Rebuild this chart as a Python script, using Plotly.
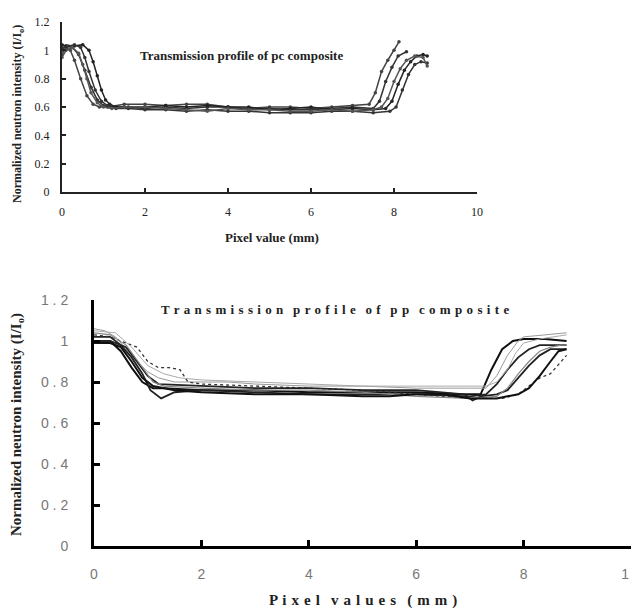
import plotly.graph_objects as go

# ---------------- top chart (pc composite) ----------------
pc_x1 = [0, 0.1, 0.2, 0.3, 0.45, 0.6, 0.75, 0.9, 1.1, 1.5, 2, 2.5, 3, 3.5, 4, 4.5, 5, 5.5, 6, 6.5, 7, 7.4, 7.55, 7.7, 7.85, 8.0, 8.12]
pc_y1 = [0.97, 1.02, 1.0, 0.93, 0.8, 0.68, 0.62, 0.6, 0.6, 0.62, 0.62, 0.61, 0.62, 0.62, 0.6, 0.59, 0.6, 0.6, 0.59, 0.6, 0.61, 0.62, 0.7, 0.85, 0.93, 1.0, 1.06]
pc_x2 = [0, 0.1, 0.25, 0.4, 0.55, 0.7, 0.85, 1.0, 1.2, 1.5, 2, 2.5, 3, 3.5, 4, 4.5, 5, 5.5, 6, 6.5, 7, 7.5, 7.65, 7.8, 7.95, 8.1, 8.3]
pc_y2 = [1.0, 1.03, 1.02, 0.97, 0.86, 0.74, 0.65, 0.61, 0.6, 0.6, 0.59, 0.6, 0.59, 0.6, 0.6, 0.58, 0.59, 0.58, 0.58, 0.59, 0.6, 0.59, 0.64, 0.78, 0.88, 0.96, 0.99]
pc_x3 = [0, 0.1, 0.3, 0.5, 0.65, 0.75, 0.85, 0.95, 1.05, 1.15, 1.3, 1.6, 2, 2.5, 3, 3.5, 4, 4.5, 5, 5.5, 6, 6.5, 7, 7.5, 7.8, 7.95, 8.1, 8.25, 8.4, 8.55, 8.7, 8.8]
pc_y3 = [1.04, 1.03, 1.03, 1.04, 1.0, 0.92, 0.82, 0.72, 0.65, 0.62, 0.6, 0.6, 0.6, 0.61, 0.6, 0.61, 0.6, 0.6, 0.58, 0.59, 0.6, 0.58, 0.59, 0.58, 0.59, 0.64, 0.76, 0.86, 0.92, 0.96, 0.97, 0.96]
pc_x4 = [0, 0.15, 0.3, 0.45, 0.55, 0.65, 0.8, 0.95, 1.1, 1.3, 1.6, 2, 2.5, 3, 3.5, 4, 4.5, 5, 5.5, 6, 6.5, 7, 7.5, 7.9, 8.05, 8.2, 8.35, 8.5, 8.65, 8.8]
pc_y4 = [1.02, 1.03, 1.04, 1.02, 0.95, 0.85, 0.72, 0.64, 0.61, 0.59, 0.59, 0.58, 0.58, 0.57, 0.58, 0.57, 0.57, 0.56, 0.56, 0.56, 0.57, 0.57, 0.56, 0.57, 0.6, 0.72, 0.83, 0.9, 0.92, 0.91]
pc_x5 = [0, 0.1, 0.25, 0.4, 0.5, 0.6, 0.7, 0.85, 1.0, 1.2, 1.5, 2, 2.5, 3, 3.5, 4, 4.5, 5, 5.5, 6, 6.5, 7, 7.5, 7.7, 7.85, 8.0, 8.15, 8.3, 8.5, 8.7, 8.8]
pc_y5 = [0.95, 1.0, 1.02, 0.98, 0.9, 0.8, 0.7, 0.63, 0.6, 0.59, 0.6, 0.6, 0.59, 0.58, 0.57, 0.59, 0.58, 0.58, 0.57, 0.57, 0.58, 0.57, 0.58, 0.6, 0.66, 0.78, 0.87, 0.93, 0.96, 0.95, 0.89]

# ---------------- bottom chart (pp composite) ----------------
pp_x1 = [0, 0.3, 0.5, 0.7, 0.9, 1.1, 1.3, 2, 3, 4, 5, 6, 6.8, 7.2, 7.4, 7.6, 7.8, 8.0, 8.4, 8.8]
pp_y1 = [1.0, 1.0, 0.95, 0.87, 0.8, 0.77, 0.77, 0.76, 0.76, 0.75, 0.75, 0.75, 0.74, 0.74, 0.86, 0.96, 1.0, 1.01, 1.01, 1.0]
pp_x2 = [0, 0.2, 0.4, 0.6, 0.8, 1.0, 1.2, 1.5, 2, 2.5, 3, 4, 5, 6, 7, 7.3, 7.5, 7.7, 7.9, 8.0, 8.4, 8.8]
pp_y2 = [1.06, 1.05, 1.02, 0.96, 0.9, 0.85, 0.82, 0.8, 0.8, 0.8, 0.79, 0.78, 0.78, 0.77, 0.77, 0.77, 0.83, 0.93, 1.0, 1.02, 1.03, 1.04]
pp_x3 = [0, 0.3, 0.5, 0.7, 0.9, 1.05, 1.25, 1.5, 2, 3, 4, 5, 6, 7, 7.3, 7.5, 7.7, 7.9, 8.1, 8.3, 8.8]
pp_y3 = [1.02, 1.02, 0.98, 0.92, 0.84, 0.76, 0.72, 0.75, 0.76, 0.75, 0.74, 0.74, 0.74, 0.73, 0.74, 0.79, 0.86, 0.92, 0.96, 0.98, 0.98]
pp_x4 = [0, 0.3, 0.6, 0.8, 1.0, 1.2, 1.4, 1.6, 1.75, 2, 3, 4, 5, 6, 7, 7.6, 7.9, 8.1, 8.3, 8.5, 8.7, 8.8]
pp_y4 = [1.03, 1.02, 0.99, 0.97, 0.9, 0.87, 0.87, 0.86, 0.8, 0.79, 0.78, 0.77, 0.76, 0.74, 0.72, 0.72, 0.74, 0.78, 0.82, 0.84, 0.9, 0.93]
pp_x5 = [0, 0.3, 0.6, 0.8, 1.0, 1.2, 2, 3, 4, 5, 6, 6.9, 7.05, 7.2, 7.5, 7.7, 7.9, 8.1, 8.3, 8.5, 8.8]
pp_y5 = [1.0, 1.0, 0.97, 0.9, 0.83, 0.79, 0.78, 0.77, 0.77, 0.76, 0.76, 0.74, 0.71, 0.73, 0.74, 0.76, 0.82, 0.88, 0.93, 0.96, 0.96]
pp_x6 = [0, 0.3, 0.6, 0.9, 1.1, 1.3, 2, 3, 4, 5, 6, 7, 7.5, 7.7, 7.9, 8.1, 8.3, 8.5, 8.7, 8.8]
pp_y6 = [1.04, 1.03, 0.98, 0.87, 0.8, 0.78, 0.77, 0.76, 0.76, 0.75, 0.73, 0.72, 0.73, 0.77, 0.84, 0.9, 0.95, 0.97, 0.98, 0.98]
pp_x7 = [0, 0.3, 0.5, 0.7, 0.9, 1.1, 1.5, 2, 3, 4, 5, 5.5, 6, 6.5, 7, 7.5, 7.7, 7.9, 8.1, 8.3, 8.5, 8.65, 8.8]
pp_y7 = [0.99, 0.99, 0.97, 0.9, 0.82, 0.78, 0.76, 0.75, 0.74, 0.74, 0.73, 0.73, 0.74, 0.74, 0.72, 0.72, 0.73, 0.74, 0.77, 0.83, 0.9, 0.95, 0.96]
pp_x8 = [0, 0.4, 0.7, 1.0, 1.3, 1.6, 2, 3, 4, 5, 6, 7, 7.3, 7.5, 7.7, 7.85, 8.0, 8.3, 8.6, 8.8]
pp_y8 = [1.05, 1.04, 0.97, 0.88, 0.84, 0.82, 0.81, 0.8, 0.79, 0.78, 0.78, 0.78, 0.78, 0.8, 0.86, 0.94, 0.99, 1.01, 1.02, 1.03]

x_ticks = [0, 2, 4, 6, 8, 10]
y_ticks = [0, 0.2, 0.4, 0.6, 0.8, 1, 1.2]
top_y_labels = ["0", "0.2", "0.4", "0.6", "0.8", "1", "1.2"]
bot_y_labels = ["0", "0 . 2", "0 . 4", "0 . 6", "0 . 8", "1", "1 . 2"]
bot_x_labels = ["0", "2", "4", "6", "8", "1 0"]

fig = go.Figure()

pc_series = [(pc_x1, pc_y1), (pc_x2, pc_y2), (pc_x3, pc_y3), (pc_x4, pc_y4), (pc_x5, pc_y5)]
pc_colors = ["#444", "#333", "#222", "#333", "#555"]
for (xs, ys), c in zip(pc_series, pc_colors):
    fig.add_trace(go.Scatter(x=xs, y=ys, xaxis="x", yaxis="y", mode="lines+markers",
                             line=dict(color=c, width=1.5), marker=dict(size=3.5, color=c),
                             showlegend=False))

pp_series = [(pp_x1, pp_y1), (pp_x2, pp_y2), (pp_x3, pp_y3), (pp_x4, pp_y4),
             (pp_x5, pp_y5), (pp_x6, pp_y6), (pp_x7, pp_y7), (pp_x8, pp_y8)]
pp_styles = [("#111", 2.0, "solid"), ("#999", 1.0, "solid"), ("#222", 1.8, "solid"),
             ("#333", 1.3, "dot"), ("#222", 1.8, "solid"), ("#888", 1.2, "solid"),
             ("#111", 2.0, "solid"), ("#aaa", 1.0, "solid")]
for (xs, ys), (c, w, d) in zip(pp_series, pp_styles):
    fig.add_trace(go.Scatter(x=xs, y=ys, xaxis="x2", yaxis="y2", mode="lines",
                             line=dict(color=c, width=w, dash=d), showlegend=False))

# page body has an 8px margin: the figure spans page pixels 8..640 x 8..608
W, H = 632, 600
def px(v):
    return (v - 8) / W
def py(v):
    return (608 - v) / H

serif = "Liberation Serif"
sans = "Liberation Sans"

common = dict(showgrid=False, zeroline=False, automargin=False, showline=True,
              ticks="inside", ticklabeloverflow="allow")

fig.update_layout(
    template="none",
    width=W, height=H, margin=dict(l=0, r=0, t=0, b=0, pad=0),
    plot_bgcolor="white", paper_bgcolor="white",
    xaxis=dict(domain=[px(62), px(477)], range=[0, 10], tickvals=x_ticks,
               ticktext=[str(t) for t in x_ticks], ticklen=4,
               tickwidth=2, tickcolor="#222", linecolor="#222",
               linewidth=2, anchor="y",
               tickfont=dict(family=serif, size=12, color="#222"),
               ticklabelstandoff=8, **common),
    yaxis=dict(domain=[py(192), py(22)], range=[0, 1.2], tickvals=y_ticks,
               ticktext=top_y_labels, ticklen=4, tickwidth=2,
               tickcolor="#222", linecolor="#222", linewidth=2, anchor="x",
               tickfont=dict(family=serif, size=12, color="#222"),
               ticklabelstandoff=8, **common),
    xaxis2=dict(domain=[px(94), px(631)], range=[0, 10], tickvals=x_ticks,
                ticktext=bot_x_labels, ticklen=6, tickwidth=3,
                tickcolor="#000", linecolor="#000", linewidth=3, anchor="y2",
                tickfont=dict(family=sans, size=14, color="#777"),
                ticklabelstandoff=13, **common),
    yaxis2=dict(domain=[py(546), py(300)], range=[0, 1.2], tickvals=y_ticks,
                ticktext=bot_y_labels, ticklen=6, tickwidth=3,
                tickcolor="#000", linecolor="#000", linewidth=3, anchor="x2",
                tickfont=dict(family=sans, size=14, color="#777"),
                ticklabelstandoff=20, **common),
)

def note(text, x, y, size, angle=0, family=serif):
    return dict(text=text, x=px(x), y=py(y), xref="paper", yref="paper",
                xanchor="center", yanchor="middle", showarrow=False, textangle=angle,
                font=dict(family=family, size=size, color="#222"))

hs = "\u200a"  # hair space for extra letter spacing
pp_title = (" " + hs).join("Transmission profile of pp composite").replace(" " + hs + " " + " " + hs, "   ")
px_title = (" " + hs).join("Pixel values (mm)").replace(" " + hs + " " + " " + hs, "   ")

ann = [
    note("<b>Transmission profile of pc composite</b>", 241, 55, 13),
    note("<b>Pixel value (mm)</b>", 272, 238, 13),
    note("<b>Normalized neutron intensity (I/I<sub>o</sub>)</b>", 18, 114, 12, -90),
    note("<b>" + pp_title + "</b>", 335, 309, 13),
    note("<b>" + px_title + "</b>", 363, 600, 15),
    note("<b>Normalized neutron intensity (I/I<sub>o</sub>)</b>", 17, 425, 15, -90),
]
fig.update_layout(annotations=ann)

fig.write_html("out.html")
